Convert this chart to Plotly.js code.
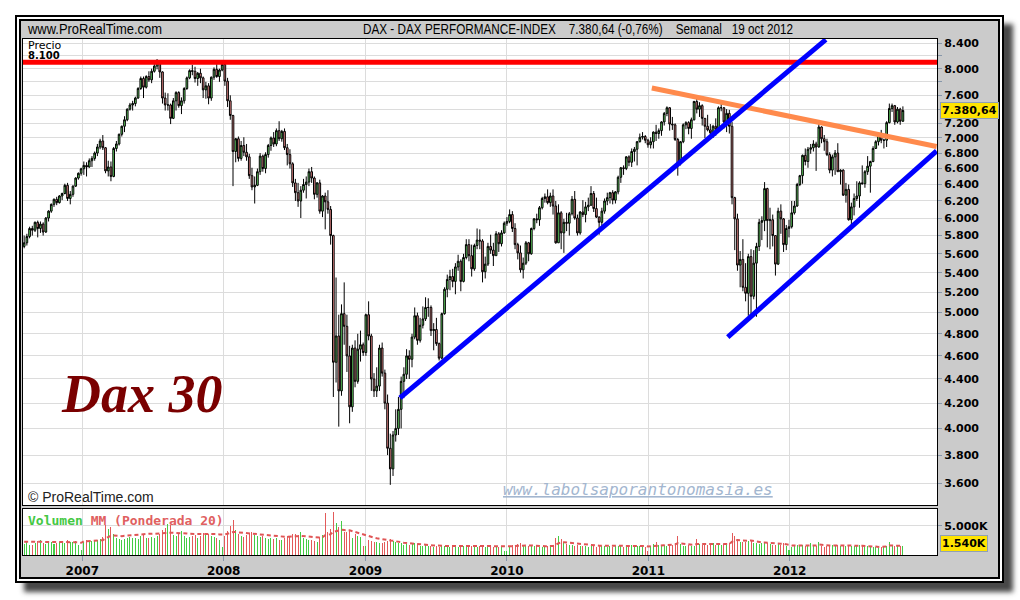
<!DOCTYPE html>
<html>
<head>
<meta charset="utf-8">
<script src="https://cdn.plot.ly/plotly-3.0.1.min.js"></script>
<style>
  html, body { margin: 0; padding: 0; background: #ffffff; }
  #wrap { position: relative; width: 1020px; height: 600px; overflow: hidden; background: #ffffff; }
  #frame {
    position: absolute; left: 15px; top: 15px; width: 977px; height: 556px;
    border: 6px double #000000; background: #cbcbcb; background-clip: padding-box;
    box-shadow: 9px 9px 5px rgba(40,40,40,0.85);
  }
  #chart { position: absolute; left: 0; top: 0; width: 1020px; height: 600px; }
  #header { position: absolute; left: 0; top: 0; width: 1020px; height: 45px; pointer-events: none; }
  #header text { font-family: 'Liberation Sans', Arial, sans-serif; font-size: 14px; fill: #000000; }
</style>
</head>
<body>
<div id="wrap">
  <div id="frame"></div>
  <div id="chart"></div>
  <svg id="header" width="1020" height="45"></svg>
</div>
<script>
// ---------------- DATA (weekly DAX, Aug 2006 - 19 Oct 2012) ----------------
const firstWeek = '2006-08-04';   // first weekly bar (Friday)

const openP = [
  5680,5720,5790,5880,5860,5950,5880,5930,5840,6000,6080,6160,6220,6180,6260,6290,6390,6230,6280,6380,6480,6540,
  6597,6640,6620,6700,6730,6800,6880,6960,6870,6570,6620,6500,6860,6920,7050,7160,7250,7400,7460,7480,7560,7700,7850,7720,7880,7830,7960,8040,8100,7950,7560,7460,7460,7270,7520,7640,7450,7520,7700,7860,7970,7960,7850,7930,7860,7680,7740,7560,7870,7990,7880,7980,
  8067,7810,7520,7310,6820,6990,6730,6900,6810,6750,6510,6370,6390,6560,6760,6600,6780,6900,7000,6920,7100,6990,7090,6870,6780,6660,6420,6300,6200,6330,6400,6430,6560,6480,6280,6420,6080,6260,6190,6100,5800,4544,4780,4300,4990,4870,4600,4170,4670,4380,4660,4700,
  4630,4980,4780,4400,4300,4340,4670,4450,4200,3850,3700,3950,4000,4150,4380,4440,4600,4570,4770,4970,4740,4880,4940,5050,5050,4830,4840,4710,4580,4990,5230,5330,5360,5310,5460,5520,5310,5560,5700,5580,5440,5690,5750,5740,5410,5490,5680,5640,5580,5820,5710,5830,
  5940,5960,6040,5880,5700,5610,5430,5500,5720,5600,5880,5990,5980,6120,6230,6250,6180,6260,6140,5720,6060,5830,5950,5940,6050,6220,6000,5830,6070,6040,6130,6150,6290,6110,6010,5950,6080,6200,6240,6300,6210,6310,6490,6610,6600,6750,6680,6820,6850,6950,7010,7020,6970,
  6910,6950,7080,7060,7100,7220,7340,7420,7190,7180,6980,6660,6950,7180,7210,7130,7250,7510,7400,7450,7270,7160,7110,7070,7160,7120,7420,7420,7220,7340,7160,6240,5990,5480,5540,5250,5190,5570,5160,5500,5680,5950,5970,6350,5970,5980,5800,5490,6080,5990,5700,5880,
  5900,6060,6140,6400,6510,6770,6690,6850,6870,6920,6880,7150,6990,6950,6780,6580,6750,6800,6560,6580,6270,6340,5980,6130,6230,6260,6420,6410,6560,6630,6690,6860,6950,7040,6970,6970,7210,7410,7450,7220,7400,7230
];
const highP = [
  5800,5820,5900,5910,5960,5970,5960,5950,6010,6090,6170,6230,6250,6270,6300,6410,6420,6320,6390,6490,6550,6610,
  6690,6680,6730,6760,6820,6920,6990,7040,6880,6700,6690,6880,6960,7060,7170,7300,7410,7490,7520,7580,7720,7880,7880,7900,7960,8000,8070,8150,8130,7960,7640,7630,7480,7560,7660,7660,7570,7720,7880,7990,8060,8030,7950,8000,7880,7800,7780,7880,8020,8070,8000,8100,
  8100,7860,7600,7320,7000,7020,6960,7010,6920,6790,6610,6500,6600,6800,6780,6810,6920,7020,7080,7130,7230,7110,7130,6920,6850,6680,6470,6420,6380,6470,6500,6600,6620,6500,6430,6460,6270,6300,6330,6140,5810,5350,4980,5080,5300,4980,4690,4700,4740,4800,4830,4720,
  4990,5110,4800,4450,4500,4700,4720,4480,4270,3960,3980,4150,4250,4420,4500,4660,4650,4800,5050,5000,4950,5060,5150,5140,5070,4900,4950,4720,5000,5250,5380,5430,5440,5500,5590,5540,5600,5760,5760,5700,5710,5880,5870,5760,5570,5720,5810,5720,5850,5840,5860,5960,
  6010,6100,6080,5940,5720,5690,5560,5740,5730,5890,6000,6050,6140,6250,6290,6340,6300,6340,6200,6160,6080,5990,6060,6070,6260,6320,6040,6080,6210,6190,6240,6380,6320,6240,6020,6120,6230,6300,6310,6330,6320,6510,6620,6640,6760,6770,6860,6880,6960,7060,7080,7040,6990,
  7010,7090,7180,7130,7230,7360,7440,7430,7290,7200,7000,6960,7200,7230,7230,7280,7520,7600,7500,7470,7270,7320,7190,7180,7270,7440,7520,7430,7400,7390,7220,6250,6050,5630,5760,5500,5600,5650,5640,5720,5990,6020,6430,6360,6120,6040,5800,6120,6160,6000,5920,5980,
  6200,6200,6420,6520,6780,6860,6880,6920,6970,6950,7190,7160,7040,6990,6810,6780,6840,6930,6590,6590,6420,6400,6180,6290,6440,6440,6640,6580,6760,6700,6890,6970,7060,7110,6990,7230,7480,7480,7460,7430,7420,7440
];
const lowP = [
  5660,5690,5770,5800,5840,5780,5830,5800,5830,5960,6060,6130,6150,6170,6210,6280,6200,6160,6250,6370,6460,6510,
  6520,6500,6610,6620,6700,6760,6850,6840,6540,6500,6440,6490,6820,6900,7020,7080,7230,7380,7380,7440,7550,7680,7560,7700,7800,7780,7940,7990,7860,7480,7380,7380,7190,7260,7380,7420,7330,7480,7680,7840,7900,7790,7740,7780,7560,7550,7470,7520,7830,7860,7800,7960,
  7740,7430,7250,6380,6680,6690,6700,6760,6700,6470,6330,6170,6380,6520,6560,6540,6740,6830,6880,6890,6960,6950,6840,6640,6600,6370,6200,6130,6000,6300,6230,6380,6420,6220,6240,6050,6010,5870,6050,5700,4250,4370,4014,4260,4700,4460,4040,4130,4330,4360,4550,4600,
  4600,4740,4300,4250,4250,4300,4420,4150,3800,3588,3650,3900,3950,4000,4240,4400,4400,4500,4750,4700,4720,4850,4920,4960,4780,4650,4690,4560,4570,4980,5150,5220,5250,5180,5420,5210,5300,5540,5520,5360,5420,5650,5650,5300,5340,5470,5600,5470,5580,5620,5680,5820,
  5910,5940,5840,5650,5540,5400,5340,5480,5520,5590,5860,5940,5910,6100,6180,6160,6130,6040,5710,5720,5650,5610,5850,5800,6030,5980,5800,5810,6010,5950,6080,6140,6070,6000,5810,5890,6050,6150,6170,6160,6170,6280,6420,6520,6580,6630,6620,6690,6640,6940,6980,6930,6870,
  6860,6860,6960,6990,7030,7170,7300,7100,7110,6960,6510,6640,6930,7120,7050,6990,7240,7340,7290,7170,7000,7090,7050,7000,7030,7100,7370,7130,7080,7060,6160,5640,5420,5250,5210,5110,4970,4970,5130,4960,5630,5750,5850,5670,5650,5680,5370,5480,5820,5620,5640,5780,
  5880,6040,6130,6380,6410,6640,6610,6790,6820,6570,6870,6930,6830,6760,6540,6500,6520,6560,6400,6260,6180,5970,5910,6030,6200,6120,6400,6360,6520,6300,6680,6860,6900,6930,6860,6880,7200,7360,7180,7200,7180,7220
];
const closeP = [
  5720,5790,5880,5860,5950,5880,5930,5840,6000,6080,6160,6220,6180,6260,6290,6390,6230,6280,6380,6480,6540,6597,
  6640,6620,6700,6730,6800,6880,6960,6870,6570,6620,6500,6860,6920,7050,7160,7250,7400,7460,7480,7560,7700,7850,7720,7880,7830,7960,8040,8100,7950,7560,7460,7460,7270,7520,7640,7450,7520,7700,7860,7970,7960,7850,7930,7860,7680,7740,7560,7870,7990,7880,7980,8067,
  7810,7520,7310,6820,6990,6730,6900,6810,6750,6510,6370,6390,6560,6760,6600,6780,6900,7000,6920,7100,6990,7090,6870,6780,6660,6420,6300,6200,6330,6400,6430,6560,6480,6280,6420,6080,6260,6190,6100,5800,4544,4780,4300,4990,4870,4600,4170,4670,4380,4660,4700,4630,
  4980,4780,4400,4300,4340,4670,4450,4200,3850,3700,3950,4000,4150,4380,4440,4600,4570,4770,4970,4740,4880,4940,5050,5050,4830,4840,4710,4580,4990,5230,5330,5360,5310,5460,5520,5310,5560,5700,5580,5440,5690,5750,5740,5410,5490,5680,5640,5580,5820,5710,5830,5940,
  5960,6040,5880,5700,5610,5430,5500,5720,5600,5880,5990,5980,6120,6230,6250,6180,6260,6140,5720,6060,5830,5950,5940,6050,6220,6000,5830,6070,6040,6130,6150,6290,6110,6010,5950,6080,6200,6240,6300,6210,6310,6490,6610,6600,6750,6680,6820,6850,6950,7010,7020,6970,6910,
  6950,7080,7060,7100,7220,7340,7420,7190,7180,6980,6660,6950,7180,7210,7130,7250,7510,7400,7450,7270,7160,7110,7070,7160,7120,7420,7420,7220,7340,7160,6240,5990,5480,5540,5250,5190,5570,5160,5500,5680,5950,5970,6350,5970,5980,5800,5490,6080,5990,5700,5880,5900,
  6060,6140,6400,6510,6770,6690,6850,6870,6920,6880,7150,6990,6950,6780,6580,6750,6800,6560,6580,6270,6340,5980,6130,6230,6260,6420,6410,6560,6630,6690,6860,6950,7040,6970,6970,7210,7410,7450,7220,7400,7230,7380.64
];
// weekly volume (K)
const volume = [
  1900,2200,1800,1700,2100,2400,2600,2000,1900,2100,2200,1900,2000,2200,2400,2100,2500,2300,2200,2400,1700,900,
  2300,2500,2200,2400,2600,2500,2800,3100,5200,4500,4900,3600,2900,2700,2600,2800,2900,3100,2900,3000,2800,3300,3400,3000,2900,3100,3000,3200,3700,4300,4700,5300,5100,3500,3200,3600,4100,3200,3000,3100,3300,3500,3000,3300,3800,3400,3600,3200,3100,2900,2500,1300,
  3200,4100,5000,6000,4300,3600,3300,3100,3400,3800,3900,3500,3200,3100,3300,2900,2800,3000,2700,2900,2600,2500,3000,3300,3200,3600,3700,3500,4000,3000,2800,2600,2500,2400,2300,3100,3400,7300,3900,4500,7400,5600,4800,5900,4000,3900,4300,3000,3700,3300,3100,1500,
  1500,2600,2400,2300,2200,2100,2000,2300,2400,2700,2400,2200,2100,2000,1800,1900,1800,1900,2000,1700,1600,1500,1700,1500,1600,1400,1500,1400,1600,1500,1400,1400,1300,1500,1400,1500,1600,1700,1800,1600,1500,1400,1500,1600,1400,1300,1500,1300,1500,1400,1600,700,
  700,1500,1700,1800,1900,2000,1700,1600,1500,1600,1500,1600,1400,1300,1400,1600,1500,1700,3000,3300,2800,2200,1900,1800,1700,1600,1700,1600,1500,1500,1400,1500,1600,1400,1500,1600,1500,1400,1500,1400,1500,1600,1500,1400,1500,1600,1700,1500,1600,1500,1700,1300,700,
  1600,1900,2200,1700,1800,1700,1600,1900,1800,2000,3200,1900,1600,1500,1700,1600,1500,2800,1900,1800,1900,1800,1900,2000,1800,1700,1800,1900,1700,2000,3800,3200,2700,2300,2300,2200,2400,2600,2100,2000,1900,2000,2200,2000,1900,1700,1800,2100,1800,2000,1500,900,
  1300,1600,1700,1600,1700,1600,1500,2100,1700,1600,2200,1500,1400,1500,1600,1700,1600,1700,1600,1800,1500,1700,1600,1500,1600,1700,1500,1400,1600,1500,1400,1300,1200,1300,1400,1600,2200,1700,1500,1600,1500,1540
];
// weighted moving average 20 of volume (K)
const volumeMA = [
  2300,2300,2250,2250,2250,2300,2300,2300,2250,2250,2250,2200,2200,2250,2250,2300,2300,2300,2300,2250,2200,2100,
  2350,2350,2400,2400,2450,2450,2500,2550,2900,3100,3300,3350,3300,3250,3250,3300,3350,3400,3450,3500,3550,3600,3650,3650,3650,3650,3650,3650,3700,3750,3800,3850,3900,3850,3800,3800,3750,3700,3700,3650,3650,3650,3650,3650,3700,3700,3700,3650,3650,3600,3550,3500,
  3550,3650,3800,3950,3950,3900,3850,3800,3750,3750,3700,3650,3600,3550,3500,3450,3400,3350,3300,3250,3200,3150,3150,3150,3150,3200,3250,3250,3300,3250,3200,3150,3100,3050,3000,3000,3050,3400,3500,3600,4000,4150,4300,4350,4300,4200,4250,4100,4000,3900,3750,3550,
  3400,3300,3150,3000,2900,2800,2700,2600,2550,2500,2450,2400,2300,2200,2100,2050,2000,1950,1900,1850,1800,1750,1750,1700,1700,1650,1650,1600,1600,1600,1550,1550,1550,1550,1550,1550,1600,1600,1650,1650,1600,1600,1600,1600,1550,1550,1550,1500,1500,1500,1500,1450,
  1400,1450,1500,1550,1600,1650,1650,1650,1650,1650,1600,1600,1550,1550,1500,1500,1500,1550,1800,2050,2200,2200,2150,2100,2000,1950,1900,1850,1800,1750,1700,1650,1650,1600,1600,1600,1600,1550,1550,1550,1550,1550,1550,1550,1550,1550,1600,1600,1600,1600,1600,1550,1450,
  1500,1550,1650,1650,1700,1700,1700,1750,1750,1800,2050,2050,1950,1900,1850,1800,1750,1900,1900,1900,1900,1900,1900,1900,1900,1850,1850,1850,1850,1900,2300,2500,2600,2550,2500,2450,2450,2500,2400,2300,2200,2150,2150,2100,2050,2000,1950,1950,1950,1950,1850,1700,
  1650,1650,1650,1650,1650,1650,1600,1700,1700,1650,1800,1750,1650,1650,1650,1650,1650,1650,1650,1700,1650,1650,1650,1600,1600,1650,1600,1550,1550,1550,1500,1450,1400,1400,1400,1450,1650,1650,1600,1600,1600,1580
];

// axis ticks
const yearTicks = ['2007-01-01','2008-01-01','2009-01-01','2010-01-01','2011-01-01','2012-01-01'];
const yearLabels = ['2007','2008','2009','2010','2011','2012'];
const priceTicks = [3600,3800,4000,4200,4400,4600,4800,5000,5200,5400,5600,5800,6000,6200,6400,6600,6800,7000,7200,7400,7600,7800,8000,8200,8400];
const priceLabels = ['3.600','3.800','4.000','4.200','4.400','4.600','4.800','5.000','5.200','5.400','5.600','5.800','6.000','6.200','6.400','6.600','6.800','7.000','7.200','','7.600','','8.000','','8.400'];
const volTicks = [5000];
const volLabels = ['5.000K'];

// header texts (non-breaking spaces keep the wide gaps)
const headerLeft = 'www.ProRealTime.com';
const headerCenter = 'DAX - DAX PERFORMANCE-INDEX\u00a0\u00a0\u00a0 7.380,64 (-0,76%)\u00a0\u00a0\u00a0 Semanal\u00a0\u00a0 19 oct 2012';

// drawn lines (resistance / trend lines)
const resistX = ['2006-08-01','2013-01-15'];
const resistY = [8100, 8100];
const upTrendX = ['2009-03-31','2012-04-03'];
const upTrendY = [4242, 8460];
const lowTrendX = ['2011-07-25','2013-01-14'];
const lowTrendY = [4770, 6827];
const downTrendX = ['2011-01-10','2013-01-14'];
const downTrendY = [7708, 6887];

// ---------------- HEADER (real SVG text) ----------------
(function () {
  const svgNS = 'http://www.w3.org/2000/svg';
  const svg = document.getElementById('header');
  const items = [[headerLeft, 28, 134], [headerCenter, 363, 430]];
  items.forEach(it => {
    const t = document.createElementNS(svgNS, 'text');
    t.setAttribute('x', it[1]);
    t.setAttribute('y', 34);
    t.setAttribute('textLength', it[2]);
    t.setAttribute('lengthAdjust', 'spacingAndGlyphs');
    t.textContent = it[0];
    svg.appendChild(t);
  });
})();

// ---------------- BUILD ----------------
const n = closeP.length;
if (![openP, highP, lowP, volume, volumeMA].every(a => a.length === n)) {
  console.error('length mismatch', openP.length, highP.length, lowP.length, closeP.length, volume.length, volumeMA.length);
}
const t0 = Date.UTC(2006, 7, 4);
const dates = [];
for (let i = 0; i < n; i++) dates.push(new Date(t0 + i * 7 * 86400000).toISOString().slice(0, 10));
const volColors = closeP.map((c, i) => c >= openP[i] ? '#44cc44' : '#e35a5a');

const xRange = ['2006-08-01', '2013-01-15'];
const lastClose = closeP[n - 1];

const candle = {
  type: 'candlestick', x: dates, open: openP, high: highP, low: lowP, close: closeP,
  xaxis: 'x', yaxis: 'y', whiskerwidth: 0,
  increasing: { line: { color: '#000000', width: 1 }, fillcolor: '#66dd66' },
  decreasing: { line: { color: '#000000', width: 1 }, fillcolor: '#f08a8a' },
  hoverinfo: 'skip'
};
const lineTrace = (x, y, color, w) => ({
  type: 'scatter', mode: 'lines', x: x, y: y, xaxis: 'x', yaxis: 'y',
  line: { color: color, width: w }, hoverinfo: 'skip'
});
const volBars = {
  type: 'bar', x: dates, y: volume, xaxis: 'x2', yaxis: 'y2',
  marker: { color: volColors, line: { width: 0 } }, width: 2.6 * 86400000, hoverinfo: 'skip'
};
const volMA = {
  type: 'scatter', mode: 'lines', x: dates, y: volumeMA, xaxis: 'x2', yaxis: 'y2',
  line: { color: '#e05555', width: 2, dash: '4px,3px' }, hoverinfo: 'skip'
};

const fx = px => (px - 23) / 914;
const fy = py => (555 - py) / 516;
const sans = 'DejaVu Sans, Verdana, sans-serif';

const gridC = '#dcdcdc';
const tickC = '#8797aa';

const fmtPrice = v => { const s = v.toFixed(2).replace('.', ','); return s.replace(/^(\d)(\d{3})/, '$1.$2'); };

const layout = {
  width: 1020, height: 600,
  margin: { l: 23, r: 83, t: 39, b: 45, pad: 0 },
  paper_bgcolor: 'rgba(0,0,0,0)', plot_bgcolor: '#ffffff',
  showlegend: false, hovermode: false, boxgap: 0.12, bargap: 0,
  xaxis: {
    type: 'date', range: xRange, anchor: 'y', tickmode: 'array', tickvals: yearTicks, ticktext: yearLabels,
    showticklabels: false, ticks: '', showgrid: true, gridcolor: gridC, gridwidth: 1,
    showline: true, mirror: true, linecolor: '#000000', linewidth: 1,
    rangeslider: { visible: false }, fixedrange: true, zeroline: false
  },
  xaxis2: {
    type: 'date', range: xRange, anchor: 'y2', tickmode: 'array', tickvals: yearTicks, ticktext: yearLabels,
    ticks: 'outside', ticklen: 5, tickcolor: tickC, tickwidth: 1,
    tickfont: { family: sans, size: 12, color: '#000000', weight: 'bold' },
    showgrid: true, gridcolor: gridC, showline: true, mirror: true, linecolor: '#000000', linewidth: 1,
    fixedrange: true, zeroline: false
  },
  yaxis: {
    type: 'log', domain: [0.0969, 1], range: [Math.log10(3451.4), Math.log10(8471)], side: 'right',
    tickmode: 'array', tickvals: priceTicks, ticktext: priceLabels,
    ticks: 'outside', ticklen: 4, tickcolor: tickC,
    tickfont: { family: sans, size: 11, color: '#000000', weight: 'bold' },
    showgrid: true, gridcolor: gridC, showline: true, mirror: true, linecolor: '#000000', linewidth: 1,
    fixedrange: true, zeroline: false
  },
  yaxis2: {
    domain: [0, 0.08915], range: [0, 7931], side: 'right',
    tickmode: 'array', tickvals: volTicks, ticktext: volLabels,
    ticks: 'outside', ticklen: 4, tickcolor: tickC,
    tickfont: { family: sans, size: 11, color: '#000000', weight: 'bold' },
    showgrid: true, gridcolor: gridC, showline: true, mirror: true, linecolor: '#000000', linewidth: 1,
    fixedrange: true, zeroline: false
  },
  annotations: [
    { xref: 'paper', yref: 'paper', x: fx(26), y: fy(45), xanchor: 'left', yanchor: 'middle', showarrow: false,
      text: 'Precio', font: { family: sans, size: 11, color: '#000000' } },
    { xref: 'paper', yref: 'paper', x: fx(26), y: fy(56), xanchor: 'left', yanchor: 'middle', showarrow: false,
      text: '8.100', font: { family: sans, size: 10, color: '#000000', weight: 'bold' } },
    { xref: 'paper', yref: 'paper', x: fx(142), y: fy(394), xanchor: 'center', yanchor: 'middle', showarrow: false,
      text: 'Dax 30', font: { family: 'Liberation Serif, Times New Roman, serif', size: 54, color: '#7a0000', weight: 'bold', style: 'italic' } },
    { xref: 'paper', yref: 'paper', x: fx(26), y: fy(497), xanchor: 'left', yanchor: 'middle', showarrow: false,
      text: '\u00a9 ProRealTime.com', font: { family: 'Liberation Sans, Arial, sans-serif', size: 14, color: '#222222' } },
    { xref: 'paper', yref: 'paper', x: fx(638), y: fy(489), xanchor: 'center', yanchor: 'middle', showarrow: false,
      text: '<u>www.labolsaporantonomasia.es</u>', font: { family: 'DejaVu Sans Mono, monospace', size: 16, color: '#a3b6cf', style: 'italic' } },
    { xref: 'paper', yref: 'paper', x: fx(26), y: fy(520), xanchor: 'left', yanchor: 'middle', showarrow: false,
      text: '<span style="color:#44c844">Volumen</span> <span style="color:#e06060">MM (Ponderada 20)</span>',
      font: { family: 'DejaVu Sans Mono, monospace', size: 13, weight: 'bold' } },
    { xref: 'paper', yref: 'y', x: fx(940), y: Math.log10(lastClose), xanchor: 'left', yanchor: 'middle', showarrow: false,
      text: fmtPrice(lastClose),
      bgcolor: '#ffe400', bordercolor: '#8fa0b5', borderwidth: 1, borderpad: 1,
      font: { family: sans, size: 11, color: '#000000', weight: 'bold' } },
    { xref: 'paper', yref: 'paper', x: fx(940), y: fy(543), xanchor: 'left', yanchor: 'middle', showarrow: false,
      text: '1.540K', bgcolor: '#ffe400', bordercolor: '#8fa0b5', borderwidth: 1, borderpad: 1,
      font: { family: sans, size: 11, color: '#000000', weight: 'bold' } }
  ]
};

const traces = [
  volBars, volMA,
  candle,
  lineTrace(resistX, resistY, '#ff0000', 5),
  lineTrace(downTrendX, downTrendY, '#ff8a4c', 5),
  lineTrace(upTrendX, upTrendY, '#0000ff', 5),
  lineTrace(lowTrendX, lowTrendY, '#0000ff', 5)
];

Plotly.newPlot('chart', traces, layout, { staticPlot: true, displayModeBar: false });
</script>
</body>
</html>
